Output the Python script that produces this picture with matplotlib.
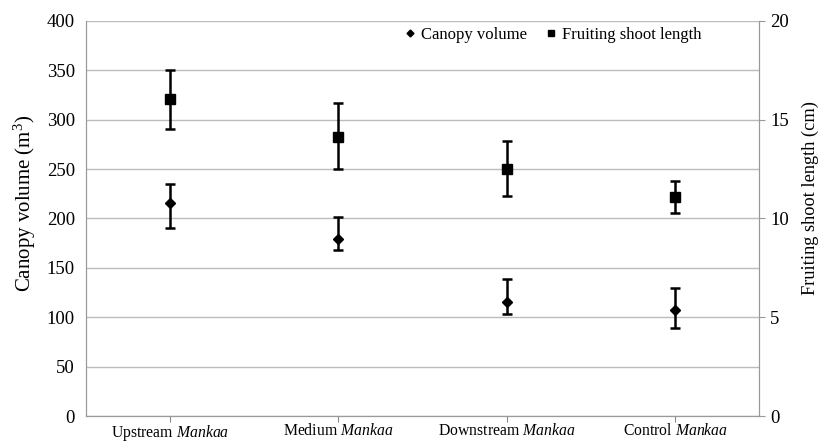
import matplotlib
matplotlib.use("Agg")
import matplotlib.pyplot as plt
from matplotlib.lines import Line2D
import numpy as np

plt.rcParams['font.family'] = ['Liberation Serif', 'DejaVu Serif']
plt.rcParams['mathtext.fontset'] = 'custom'
plt.rcParams['mathtext.rm'] = 'Liberation Serif'
plt.rcParams['mathtext.it'] = 'Liberation Serif:italic'

categories = [r"Upstream $\mathit{Mankaa}$", r"Medium $\mathit{Mankaa}$",
              r"Downstream $\mathit{Mankaa}$", r"Control $\mathit{Mankaa}$"]
canopy = [216, 179, 115, 107]
canopy_upper = [235, 201, 139, 130]
canopy_lower = [190, 168, 103, 89]
shoot = [16.05, 14.1, 12.5, 11.1]
shoot_upper = [17.5, 15.85, 13.9, 11.9]
shoot_lower = [14.55, 12.5, 11.15, 10.3]
left_ticks = [0, 50, 100, 150, 200, 250, 300, 350, 400]
right_ticks = [0, 5, 10, 15, 20]

fig = plt.figure(figsize=(8.19, 4.44), dpi=100)
ax = fig.add_axes([0.105, 0.063, 0.822, 0.890])
ax2 = ax.twinx()

x = np.arange(len(categories))
grid_c = '#bcbcbc'

ax.set_ylim(0, 400)
ax.set_xlim(-0.5, 3.5)
ax.set_yticks(left_ticks)
ax.yaxis.grid(True, color=grid_c, lw=1)
ax.set_axisbelow(True)
ax.set_xticks(x)
ax.set_xticklabels(categories, fontsize=11.3)
ax.tick_params(axis='y', labelsize=13.5, length=0, pad=8)
ax.tick_params(axis='x', length=4, color='#888888', pad=1)
ax.set_ylabel(r"Canopy volume (m$^3$)", fontsize=15)
ax.yaxis.set_label_coords(-0.071, 0.538)

ax2.set_ylim(0, 20)
ax2.set_yticks(right_ticks)
ax2.tick_params(axis='y', labelsize=13.5, length=4, color='#999999', direction='out', pad=4)
ax2.set_ylabel("Fruiting shoot length (cm)", fontsize=13.2)
ax2.yaxis.set_label_coords(1.063, 0.552)

for a in (ax, ax2):
    a.spines['top'].set_visible(False)
    for s in ('left', 'right', 'bottom'):
        a.spines[s].set_color('#999999')

cv = np.array(canopy); cu = np.array(canopy_upper); cl = np.array(canopy_lower)
ax.errorbar(x, cv, yerr=[cv - cl, cu - cv], fmt='D', color='black', ms=5,
            ecolor='black', elinewidth=1.8, capsize=3.5, capthick=1.8, zorder=3)
sv = np.array(shoot); su = np.array(shoot_upper); sl = np.array(shoot_lower)
ax2.errorbar(x, sv, yerr=[sv - sl, su - sv], fmt='s', color='black', ms=7,
             ecolor='black', elinewidth=1.8, capsize=3.5, capthick=1.8, zorder=3)

handles = [Line2D([], [], marker='D', color='black', ls='none', ms=3.5),
           Line2D([], [], marker='s', color='black', ls='none', ms=4.5)]
ax2.legend(handles, ["Canopy volume", "Fruiting shoot length"], loc='upper right',
           bbox_to_anchor=(0.915, 0.985), ncol=2, frameon=False, fontsize=12,
           handletextpad=0.3, columnspacing=1.0, handlelength=0.8,
           borderaxespad=0, borderpad=0)

fig.savefig("out.png", dpi=100)
